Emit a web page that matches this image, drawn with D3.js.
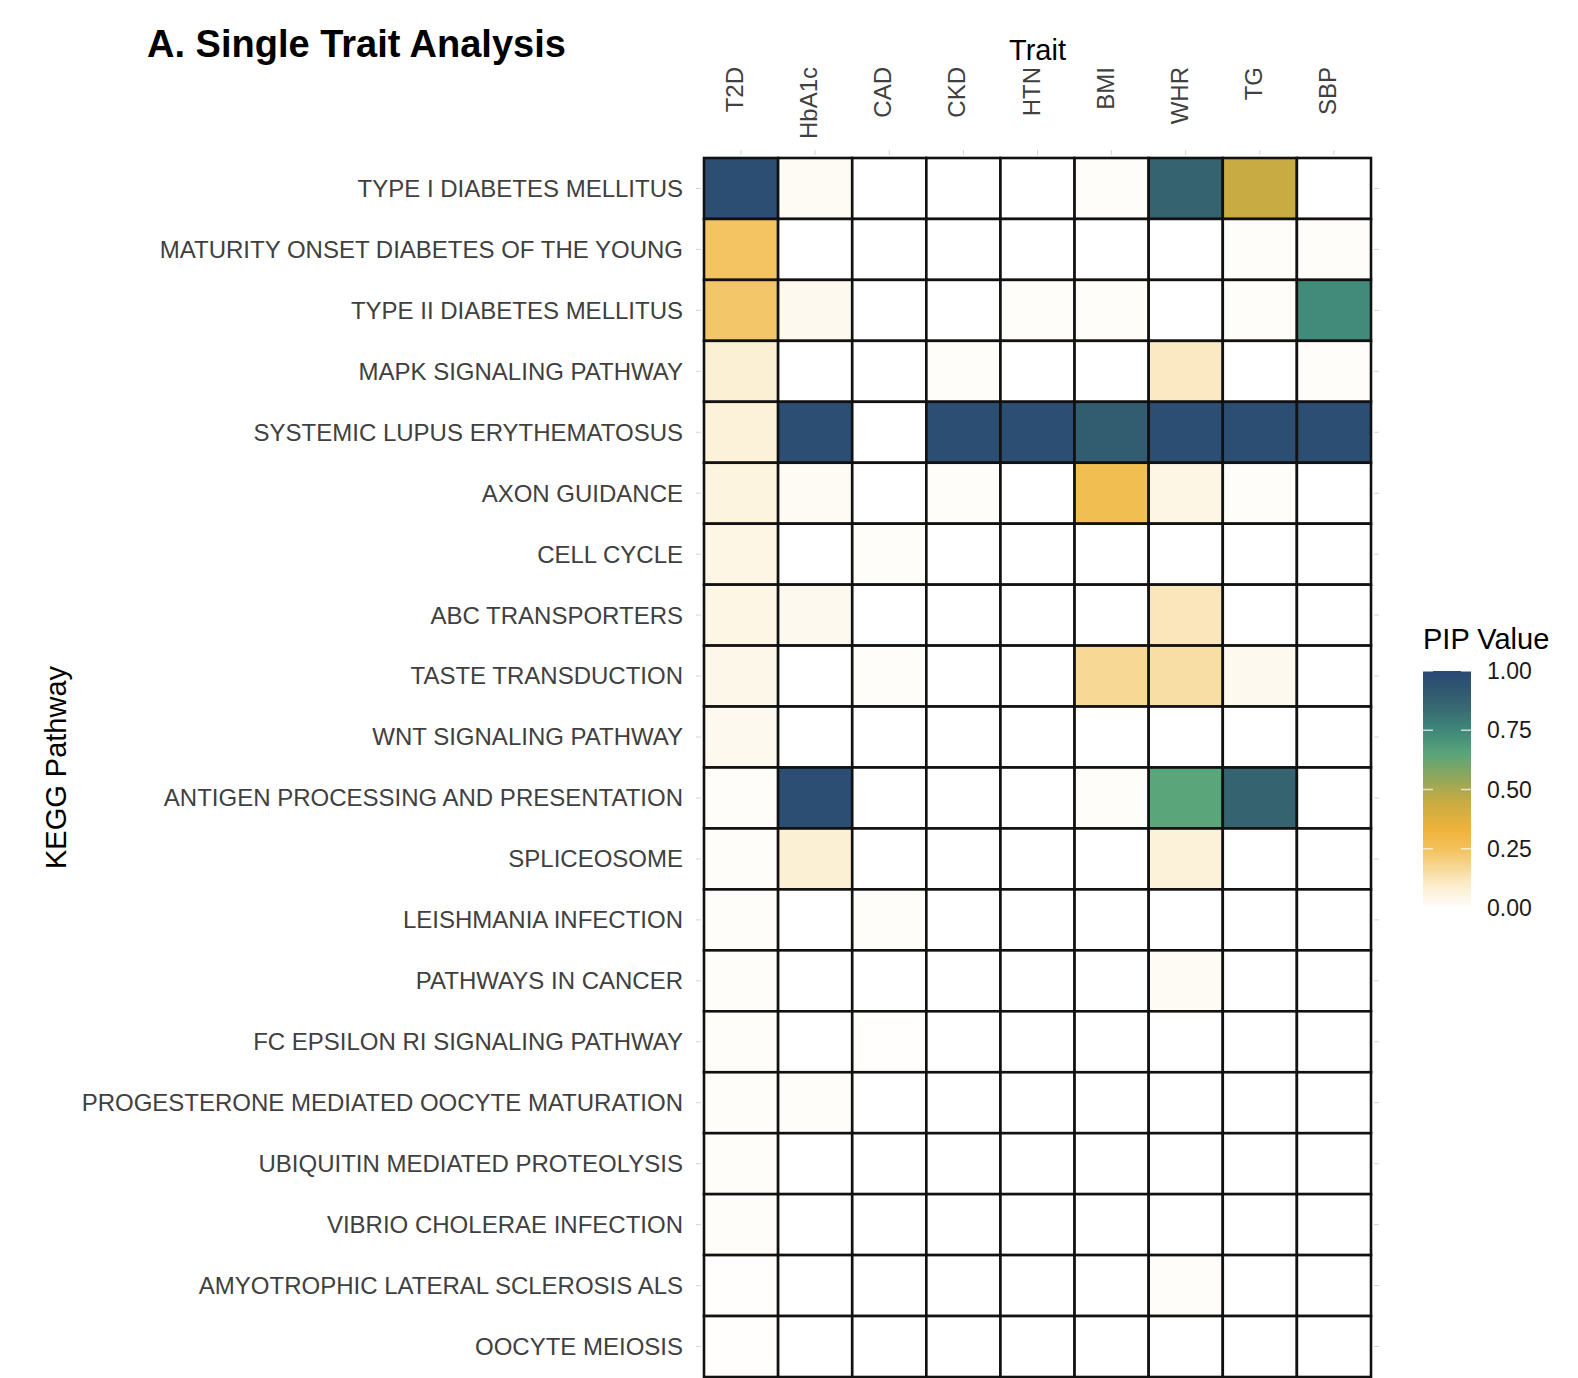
<!DOCTYPE html>
<html>
<head>
<meta charset="utf-8">
<script src="https://cdn.jsdelivr.net/npm/d3@7"></script>
<style>
  html, body { margin: 0; padding: 0; background: #ffffff; }
  svg { display: block; font-family: "Liberation Sans", Arial, Helvetica, sans-serif; }
</style>
</head>
<body>
<svg id="chart" width="1578" height="1378"></svg>
<script>
// ---------------- data ----------------
const traits = ["T2D", "HbA1c", "CAD", "CKD", "HTN", "BMI", "WHR", "TG", "SBP"];
const pathways = [
  "TYPE I DIABETES MELLITUS",
  "MATURITY ONSET DIABETES OF THE YOUNG",
  "TYPE II DIABETES MELLITUS",
  "MAPK SIGNALING PATHWAY",
  "SYSTEMIC LUPUS ERYTHEMATOSUS",
  "AXON GUIDANCE",
  "CELL CYCLE",
  "ABC TRANSPORTERS",
  "TASTE TRANSDUCTION",
  "WNT SIGNALING PATHWAY",
  "ANTIGEN PROCESSING AND PRESENTATION",
  "SPLICEOSOME",
  "LEISHMANIA INFECTION",
  "PATHWAYS IN CANCER",
  "FC EPSILON RI SIGNALING PATHWAY",
  "PROGESTERONE MEDIATED OOCYTE MATURATION",
  "UBIQUITIN MEDIATED PROTEOLYSIS",
  "VIBRIO CHOLERAE INFECTION",
  "AMYOTROPHIC LATERAL SCLEROSIS ALS",
  "OOCYTE MEIOSIS"
];
// PIP values, one row per pathway, columns follow `traits`
const pipT2D   = [0.97, 0.24, 0.23, 0.08, 0.07, 0.06, 0.05, 0.05, 0.04, 0.03, 0.01, 0.01, 0.01, 0.01, 0.01, 0.01, 0.01, 0.01, 0.005, 0.003];
const pipHbA1c = [0.02, 0.00, 0.03, 0.00, 0.97, 0.02, 0.00, 0.03, 0.00, 0.00, 0.97, 0.08, 0.00, 0.00, 0.00, 0.01, 0.00, 0.00, 0.00, 0.00];
const pipCAD   = [0.00, 0.00, 0.00, 0.00, 0.00, 0.00, 0.01, 0.00, 0.01, 0.00, 0.00, 0.00, 0.01, 0.00, 0.005, 0.00, 0.00, 0.00, 0.00, 0.00];
const pipCKD   = [0.00, 0.00, 0.00, 0.01, 0.97, 0.01, 0.00, 0.00, 0.00, 0.00, 0.00, 0.00, 0.00, 0.00, 0.00, 0.00, 0.00, 0.00, 0.00, 0.00];
const pipHTN   = [0.00, 0.00, 0.01, 0.00, 0.97, 0.00, 0.00, 0.00, 0.00, 0.00, 0.00, 0.00, 0.00, 0.00, 0.00, 0.00, 0.00, 0.00, 0.00, 0.00];
const pipBMI   = [0.01, 0.00, 0.01, 0.00, 0.90, 0.27, 0.00, 0.00, 0.17, 0.00, 0.01, 0.00, 0.00, 0.00, 0.00, 0.00, 0.00, 0.00, 0.00, 0.00];
const pipWHR   = [0.87, 0.00, 0.00, 0.11, 0.97, 0.05, 0.00, 0.12, 0.15, 0.00, 0.65, 0.07, 0.00, 0.02, 0.00, 0.00, 0.00, 0.00, 0.01, 0.00];
const pipTG    = [0.45, 0.01, 0.01, 0.00, 0.97, 0.01, 0.00, 0.00, 0.03, 0.00, 0.87, 0.00, 0.00, 0.00, 0.00, 0.00, 0.00, 0.00, 0.00, 0.00];
const pipSBP   = [0.00, 0.01, 0.74, 0.01, 0.97, 0.00, 0.00, 0.00, 0.00, 0.00, 0.00, 0.00, 0.00, 0.00, 0.00, 0.00, 0.00, 0.00, 0.00, 0.00];
const pipColumns = [pipT2D, pipHbA1c, pipCAD, pipCKD, pipHTN, pipBMI, pipWHR, pipTG, pipSBP];

const legendTicks = [0, 0.25, 0.5, 0.75, 1.0];
const colorStops = [0.00, 0.10, 0.25, 0.33, 0.45, 0.55, 0.65, 0.75, 0.88, 1.00];
const colorValues = ["#ffffff", "#fbecc9", "#f2c15a", "#efb33b", "#c8ab42", "#8fa75b", "#5aa57a", "#3f8779", "#34606f", "#284873"];

// ---------------- layout ----------------
const svg = d3.select("#chart");
const grid = { left: 704, right: 1371, top: 158, bottom: 1377 };

const x = d3.scaleBand().domain(traits).range([grid.left, grid.right]).padding(0);
const y = d3.scaleBand().domain(pathways).range([grid.top, grid.bottom]).padding(0);
const color = d3.scaleLinear().domain(colorStops).range(colorValues).interpolate(d3.interpolateRgb).clamp(true);

const cells = [];
pathways.forEach((p, i) => traits.forEach((t, j) => cells.push({ p, t, v: pipColumns[j][i] })));

// title
svg.append("text")
  .attr("x", 147).attr("y", 57)
  .attr("font-size", 38).attr("font-weight", "bold").attr("fill", "#000")
  .text("A. Single Trait Analysis");

// axis ticks (faint)
const tickG = svg.append("g").attr("stroke", "#d4d4d4").attr("stroke-width", 1);
tickG.selectAll("line.tx").data(traits).join("line")
  .attr("x1", d => x(d) + x.bandwidth() / 2).attr("x2", d => x(d) + x.bandwidth() / 2)
  .attr("y1", grid.top - 8).attr("y2", grid.top - 3);
tickG.selectAll("line.tyl").data(pathways).join("line")
  .attr("x1", grid.left - 8).attr("x2", grid.left - 3)
  .attr("y1", d => y(d) + y.bandwidth() / 2).attr("y2", d => y(d) + y.bandwidth() / 2);
tickG.selectAll("line.tyr").data(pathways).join("line")
  .attr("x1", grid.right + 3).attr("x2", grid.right + 8)
  .attr("y1", d => y(d) + y.bandwidth() / 2).attr("y2", d => y(d) + y.bandwidth() / 2);

// cells
svg.append("g").selectAll("rect").data(cells).join("rect")
  .attr("x", d => x(d.t)).attr("y", d => y(d.p))
  .attr("width", x.bandwidth()).attr("height", y.bandwidth())
  .attr("fill", d => color(d.v))
  .attr("stroke", "#111").attr("stroke-width", 2.6);

// column labels (top, rotated)
svg.append("g").selectAll("text").data(traits).join("text")
  .attr("transform", d => `translate(${x(d) + x.bandwidth() / 2 + 2},67) rotate(-90)`)
  .attr("text-anchor", "end")
  .attr("font-size", 24).attr("fill", "#404040")
  .text(d => d);

// row labels
svg.append("g").selectAll("text").data(pathways).join("text")
  .attr("x", 683).attr("y", d => y(d) + y.bandwidth() / 2).attr("dy", "0.35em")
  .attr("text-anchor", "end")
  .attr("font-size", 24).attr("fill", "#404040")
  .text(d => d);

// axis titles
svg.append("text")
  .attr("x", (grid.left + grid.right) / 2).attr("y", 60)
  .attr("text-anchor", "middle").attr("font-size", 29).attr("fill", "#000")
  .text("Trait");
svg.append("text")
  .attr("transform", `translate(66,${(grid.top + grid.bottom) / 2}) rotate(-90)`)
  .attr("text-anchor", "middle").attr("font-size", 29).attr("fill", "#000")
  .text("KEGG Pathway");

// legend
const leg = { x: 1423, w: 48, top: 671, bottom: 908 };
const ly = d3.scaleLinear().domain([0, 1]).range([leg.bottom, leg.top]);
const defs = svg.append("defs");
const grad = defs.append("linearGradient").attr("id", "pipgrad")
  .attr("x1", 0).attr("y1", 1).attr("x2", 0).attr("y2", 0);
d3.range(0, 1.0001, 0.02).forEach(t => {
  grad.append("stop").attr("offset", t).attr("stop-color", color(t));
});
svg.append("text")
  .attr("x", 1423).attr("y", 649)
  .attr("font-size", 29).attr("fill", "#000")
  .text("PIP Value");
svg.append("rect")
  .attr("x", leg.x).attr("y", leg.top)
  .attr("width", leg.w).attr("height", leg.bottom - leg.top)
  .attr("fill", "url(#pipgrad)");
const lt = svg.append("g").attr("stroke", "#ffffff").attr("stroke-opacity", 0.7).attr("stroke-width", 1.5);
legendTicks.forEach(t => {
  lt.append("line").attr("x1", leg.x).attr("x2", leg.x + 10).attr("y1", ly(t)).attr("y2", ly(t));
  lt.append("line").attr("x1", leg.x + leg.w - 10).attr("x2", leg.x + leg.w).attr("y1", ly(t)).attr("y2", ly(t));
});
svg.append("g").selectAll("text").data(legendTicks).join("text")
  .attr("x", 1487).attr("y", d => ly(d)).attr("dy", "0.35em")
  .attr("font-size", 23).attr("fill", "#1a1a1a")
  .text(d => d3.format(".2f")(d));
</script>
</body>
</html>
